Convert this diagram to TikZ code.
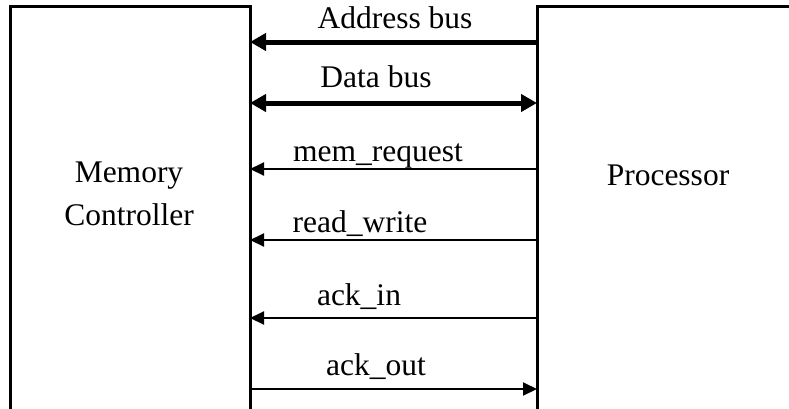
\documentclass[tikz,border=0pt]{standalone}
\usepackage{fontspec}
\setmainfont{Liberation Serif}
\usetikzlibrary{arrows.meta}
\begin{document}
\begin{tikzpicture}[x=1bp,y=-1bp,
  sig/.style={line width=2bp,-{Triangle[length=14bp,width=13bp]}},
  bus/.style={line width=5bp,-{Triangle[length=16bp,width=17bp]}},
  busboth/.style={line width=5bp,{Triangle[length=16bp,width=17bp]}-{Triangle[length=16bp,width=17bp]}},
  lbl/.style={anchor=base,inner sep=0pt,font=\fontsize{31.5bp}{37bp}\selectfont},
  title/.style={align=center,inner sep=0pt,font=\fontsize{31.5bp}{43bp}\selectfont}]
\useasboundingbox (0,0) rectangle (789,408);
\clip (0,0) rectangle (789,408);
% the two blocks run past the lower and right edges
\draw[line width=3bp] (10,440) -- (10,6) -- (250,6) -- (250,440);
\draw[line width=3bp] (820,6) -- (537,6) -- (537,440);
\coordinate (mcE) at (250,0);
\coordinate (prW) at (537,0);
\node[title] (mc) at (129,194) {Memory\\Controller};
\node[title,anchor=base] (pr) at (668,185) {Processor};
% buses
\draw[bus] (prW |- 0,42) -- (mcE |- 0,42);
\draw[busboth] (mcE |- 0,103) -- (prW |- 0,103);
% control signals
\draw[sig] (prW |- 0,169) -- (mcE |- 0,169);
\draw[sig] (prW |- 0,240) -- (mcE |- 0,240);
\draw[sig] (prW |- 0,318) -- (mcE |- 0,318);
\draw[sig] (mcE |- 0,389) -- (prW |- 0,389);
% labels
\node[lbl] (la) at (395,28) {Address bus};
\node[lbl] (ld) at (376,87) {Data bus};
\node[lbl] (lm) at (378,161) {mem\_request};
\node[lbl] (lr) at (360,232) {read\_write};
\node[lbl] (li) at (359,305) {ack\_in};
\node[lbl] (lo) at (376,375) {ack\_out};
\end{tikzpicture}
\end{document}
